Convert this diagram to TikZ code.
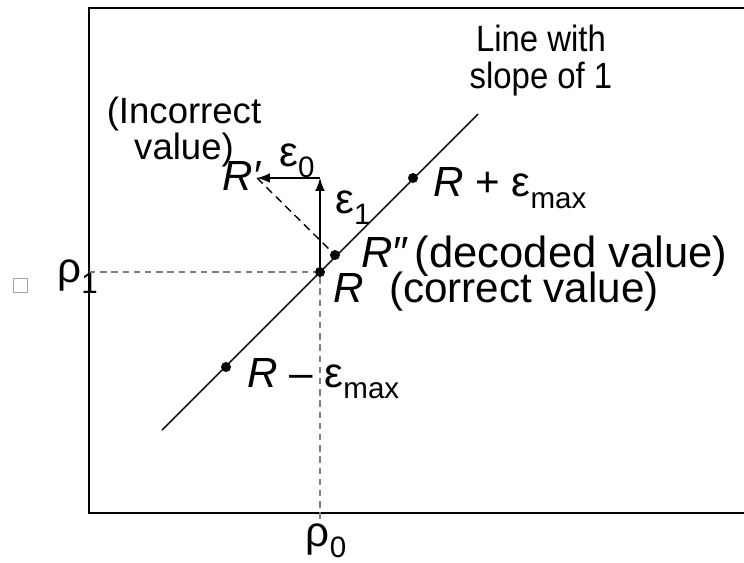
\documentclass[tikz,border=0pt]{standalone}
\usepackage{fontspec}
\setmainfont{Liberation Sans}
\usetikzlibrary{arrows.meta}
\newcommand{\lowsub}[1]{\raisebox{-0.28em}{\fontsize{21}{23}\selectfont #1}}
\begin{document}
\begin{tikzpicture}[
        dot/.style={circle, fill, inner sep=0pt, minimum size=0.25cm},
        lbl/.style={inner sep=0pt, font=\fontsize{30}{34}\selectfont},
        note/.style={inner sep=0pt, align=center, font=\fontsize{26}{26}\selectfont},
        guide/.style={gray, line width=0.9pt, dash pattern=on 0.16cm off 0.12cm},
        frame/.style={line width=1.6pt},
        >={Latex[length=0.32cm, width=0.24cm]}
    ]
        \useasboundingbox (0,0) rectangle (18.6,14.05);

        % Frame (open on the right)
        \draw[frame] (19.2,13.85) -- (2.225,13.85) -- (2.225,1.225) -- (19.2,1.225);

        % Points on the line
        \coordinate (lineA) at (4.05,3.3);
        \coordinate (lineB) at (11.95,11.2);
        \node[dot] (R) at (8.0,7.25) {};
        \node[dot] (Rdec) at (8.375,7.675) {};
        \node[dot] (Rhi) at (10.325,9.6) {};
        \node[dot] (Rlo) at (5.65,4.875) {};
        \coordinate (C) at (8.0,9.6);
        \coordinate (Rinc) at (6.425,9.6);

        % Axis projections
        \coordinate (rhoA) at (2.225,7.25);
        \coordinate (rhoB) at (8.0,0.925);
        \draw[guide] (rhoA) -- (R);
        \draw[guide] (R) -- (rhoB);

        % Line with slope of 1
        \draw[line width=1pt] (lineA) -- (lineB);

        % Error vectors
        \draw[->, line width=1pt] (R.center) -- (C);
        \draw[->, line width=1pt] (C) -- (Rinc);
        \draw[dashed, line width=1pt, dash pattern=on 0.2cm off 0.13cm] (Rinc) -- (Rdec);

        % Labels
        \node[draw=gray!70, line width=0.4pt, minimum size=0.35cm, inner sep=0pt] (box) at (0.5,6.925) {};
        \node[lbl, anchor=base east] (rho1) at (2.45,7.0) {ρ\lowsub{1}};
        \node[lbl, anchor=base] (rho0) at (8.15,0.4) {ρ\lowsub{0}};
        \node[lbl, anchor=base west] (Rlbl) at (8.325,6.5) {\textit{R}\hspace{0.6em}(correct value)};
        \node[lbl, anchor=base west, font=\fontsize{31}{36}\selectfont] (Rdeclbl) at (9.02,7.375) {\textit{R\kern-0.02em″}\hspace{0.15em}(decoded value)};
        \node[lbl, anchor=base west] (Rhilbl) at (10.825,9.125) {\textit{R} + ε\lowsub{max}};
        \node[lbl, anchor=base west] (Rlolbl) at (6.175,4.375) {\textit{R} – ε\lowsub{max}};
        \node[lbl, anchor=base west] (Rinclbl) at (5.55,9.3) {\textit{R′}};
        \node[lbl, anchor=base west] (eps0) at (6.975,9.9) {ε\lowsub{0}};
        \node[lbl, anchor=base west] (eps1) at (8.375,8.725) {ε\lowsub{1}};
        \node[note] (inc) at (4.6,10.75) {(Incorrect\\value)};
        \node[note] (slope) at (13.525,12.53) {\scalebox{0.9}[1]{Line with}\\\scalebox{0.9}[1]{slope of 1}};
    \end{tikzpicture}
\end{document}
